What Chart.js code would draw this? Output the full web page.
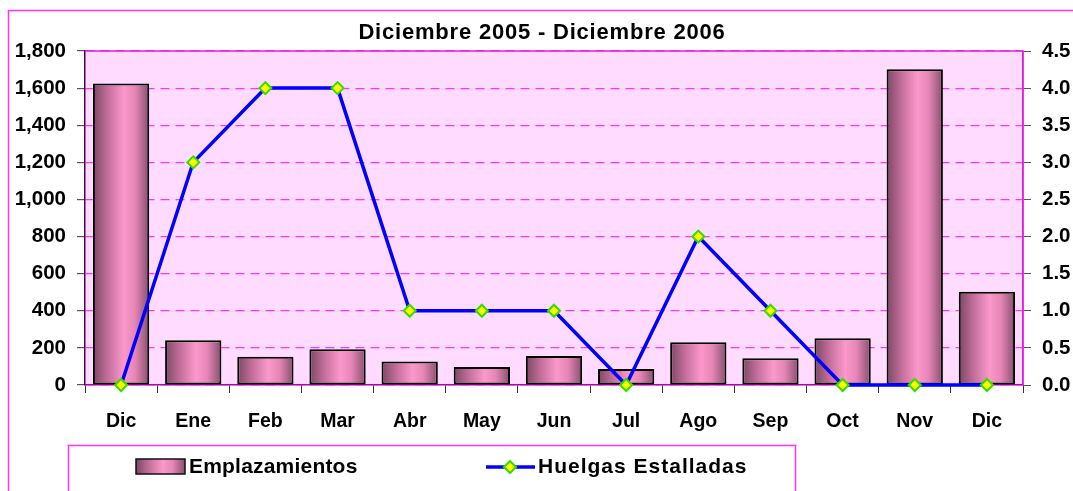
<!DOCTYPE html>
<html>
<head>
<meta charset="utf-8">
<script src="https://cdn.jsdelivr.net/npm/chart.js@4"></script>
<style>
  body { margin: 0; background: #fff; }
  #wrap { width: 1073px; height: 491px; }
</style>
</head>
<body>
<div id="wrap"><canvas id="grafica" width="1073" height="491"></canvas></div>
<script>
// datos
const meses = ['Dic', 'Ene', 'Feb', 'Mar', 'Abr', 'May', 'Jun', 'Jul', 'Ago', 'Sep', 'Oct', 'Nov', 'Dic'];
const emplazamientos = [1625, 241, 152, 192, 126, 97, 156, 86, 230, 144, 252, 1701, 503];
const huelgas = [0, 3, 4, 4, 1, 1, 1, 0, 2, 1, 0, 0, 0];
const ticksIzq = [0, 200, 400, 600, 800, 1000, 1200, 1400, 1600, 1800];
const ticksDer = [0, 0.5, 1, 1.5, 2, 2.5, 3, 3.5, 4, 4.5];
const titulo = 'Diciembre 2005 - Diciembre 2006';

const fuente = "'Liberation Sans', Arial, sans-serif";
const BAR_PCT = 0.78;

// degradado horizontal de cada barra
function degradado(ctx) {
  const chart = ctx.chart;
  const xs = chart.scales.x;
  if (!xs || !chart.chartArea) return '#f995c8';
  const cx = xs.getPixelForValue(ctx.dataIndex);
  const w = (xs.width / meses.length) * BAR_PCT;
  return gradBarra(chart.ctx, cx - w / 2, cx + w / 2);
}
function gradBarra(c, x0, x1) {
  const g = c.createLinearGradient(x0, 0, x1, 0);
  g.addColorStop(0, '#7a4863');
  g.addColorStop(0.25, '#c06c98');
  g.addColorStop(0.55, '#fc98cb');
  g.addColorStop(0.75, '#e585b6');
  g.addColorStop(1, '#864f6d');
  return g;
}

// fondo del area de trazado, titulo, marcos y leyenda
const marcos = {
  id: 'marcos',
  beforeDraw(chart) {
    const c = chart.ctx, a = chart.chartArea;
    c.save();
    c.fillStyle = '#ffdcff';
    c.fillRect(a.left, a.top, a.right - a.left, a.bottom - a.top);
    c.strokeStyle = '#ff33ff';
    c.lineWidth = 1.5;
    c.strokeRect(8.5, 10.5, 1200, 600);
    c.restore();
  },
  afterDraw(chart) {
    const c = chart.ctx, a = chart.chartArea;
    c.save();
    c.strokeStyle = '#e020e0';
    c.lineWidth = 1.5;
    c.beginPath();
    c.moveTo(a.left, a.top); c.lineTo(a.right, a.top);
    c.moveTo(a.right, a.top); c.lineTo(a.right, a.bottom);
    c.stroke();

    // titulo
    c.fillStyle = '#000';
    c.font = 'bold 22px ' + fuente;
    c.letterSpacing = '0.8px';
    c.textAlign = 'center';
    c.textBaseline = 'alphabetic';
    c.fillText(titulo, 542, 39);
    c.textAlign = 'left';

    // leyenda
    c.strokeStyle = '#ff33ff';
    c.lineWidth = 1.5;
    c.strokeRect(68.5, 445.5, 727, 100);
    c.fillStyle = gradBarra(c, 136, 185);
    c.fillRect(136, 459, 49, 15);
    c.strokeStyle = '#111';
    c.lineWidth = 1.5;
    c.strokeRect(136, 459, 49, 15);
    c.fillStyle = '#000';
    c.font = 'bold 21px ' + fuente;
    c.textBaseline = 'middle';
    c.letterSpacing = '0.2px';
    c.fillText('Emplazamientos', 189, 467);

    c.strokeStyle = '#0000ff';
    c.lineWidth = 3.5;
    c.beginPath(); c.moveTo(486, 467); c.lineTo(535, 467); c.stroke();
    c.fillStyle = '#ffff00';
    c.strokeStyle = '#33dd00';
    c.lineWidth = 2;
    c.beginPath();
    c.moveTo(510, 461); c.lineTo(516, 467); c.lineTo(510, 473); c.lineTo(504, 467); c.closePath();
    c.fill(); c.stroke();
    c.fillStyle = '#000';
    c.letterSpacing = '1px';
    c.fillText('Huelgas Estalladas', 538, 467);
    c.letterSpacing = '0px';
    c.restore();
  }
};

const data = {
  labels: meses,
  datasets: [
    {
      type: 'line',
      label: 'Huelgas Estalladas',
      data: huelgas,
      yAxisID: 'y1',
      borderColor: '#0000ff',
      borderWidth: 3.5,
      pointStyle: 'rectRot',
      pointRadius: 6,
      pointBackgroundColor: '#ffff00',
      pointBorderColor: '#33dd00',
      pointBorderWidth: 2,
      tension: 0,
      clip: false,
      order: 0
    },
    {
      type: 'bar',
      label: 'Emplazamientos',
      data: emplazamientos,
      yAxisID: 'y',
      backgroundColor: degradado,
      borderColor: '#000',
      borderWidth: 2,
      borderSkipped: false,
      barPercentage: BAR_PCT,
      categoryPercentage: 1,
      order: 1
    }
  ]
};

const config = {
  data,
  options: {
    responsive: false,
    animation: false,
    layout: { padding: { left: 0, right: 0, top: 51, bottom: 56 } },
    plugins: {
      legend: { display: false },
      tooltip: { enabled: false }
    },
    scales: {
      x: {
        grid: { offset: true, drawOnChartArea: false, tickLength: 8, color: '#333' },
        border: { color: '#b000b0', width: 1.5 },
        ticks: { color: '#000', padding: 17, font: { family: fuente, size: 19.5, weight: 'bold' } },
        afterFit: s => { s.height = 50; }
      },
      y: {
        position: 'left',
        min: 0,
        max: 1800,
        afterBuildTicks: s => { s.ticks = ticksIzq.map(v => ({ value: v })); },
        grid: { color: '#ff33ff', lineWidth: 1.2, tickLength: 8, tickColor: '#555', tickBorderDash: [] },
        border: { color: '#500050', width: 1.5, dash: [9, 6] },
        ticks: {
          color: '#000',
          padding: 11,
          font: { family: fuente, size: 20.5, weight: 'bold' },
          callback: v => v.toLocaleString('en-US')
        },
        afterFit: s => { s.width = 85; }
      },
      y1: {
        position: 'right',
        min: 0,
        max: 4.5,
        afterBuildTicks: s => { s.ticks = ticksDer.map(v => ({ value: v })); },
        grid: { drawOnChartArea: false, tickLength: 8, color: '#555' },
        border: { color: '#e020e0', width: 1.5 },
        ticks: {
          color: '#000',
          padding: 11,
          font: { family: fuente, size: 20.5, weight: 'bold' },
          callback: v => v.toFixed(1)
        },
        afterFit: s => { s.width = 50; }
      }
    }
  },
  plugins: [marcos]
};

const grafica = new Chart(document.getElementById('grafica'), config);
</script>
</body>
</html>
